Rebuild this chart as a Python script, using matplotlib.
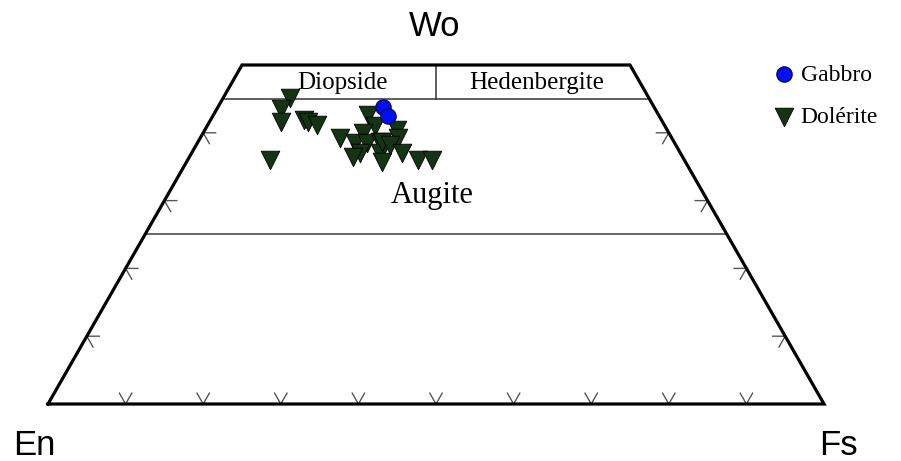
import matplotlib.pyplot as plt
import numpy as np

# pyroxene compositions (mol %)
dol_wo = [45.1, 43.5, 41.6, 41.9, 41.6, 41.2, 39.2, 36.0, 42.6, 41.0, 40.0, 38.5, 38.5,
          38.6, 37.0, 36.4, 37.0, 35.7, 40.4, 39.2, 38.6, 38.2, 37.0, 36.0, 36.0]
dol_en = [46.3, 48.2, 49.2, 46.1, 45.7, 44.7, 42.8, 53.4, 37.5, 37.4, 39.4, 41.2, 39.6,
          37.9, 41.3, 42.5, 38.7, 39.1, 34.8, 35.3, 37.7, 36.8, 35.9, 34.3, 32.5]
dol_fs = [8.6, 8.3, 9.2, 12.0, 12.7, 14.1, 18.0, 10.6, 19.9, 21.6, 20.6, 20.3, 21.9,
          23.5, 21.7, 21.1, 24.3, 25.2, 24.8, 25.5, 23.7, 25.0, 27.1, 29.7, 31.5]

gab_wo = [43.8, 42.5]
gab_en = [34.9, 34.9]
gab_fs = [21.3, 22.6]

ticks = [0.1, 0.2, 0.3, 0.4, 0.5, 0.6, 0.7, 0.8, 0.9]
side_ticks = [0.1, 0.2, 0.3, 0.4]


def tern(fs, wo):
    # ternary -> cartesian, x along En-Fs, y = Wo fraction
    fs = np.asarray(fs, dtype=float)
    wo = np.asarray(wo, dtype=float)
    return fs + wo / 2, wo


fig = plt.figure(figsize=(9.01, 4.61), dpi=100)
ax = fig.add_axes([0, 0, 1, 1])
ax.set_xlim(-48 / 776, 853 / 776)
ax.set_ylim(-57 / 678, 404 / 678)
ax.axis('off')

# outline of the quadrilateral
x, y = tern([0, 1, 0.5, 0, 0], [0, 0, 0.5, 0.5, 0])
ax.plot(x, y, color='black', lw=2.3, solid_joinstyle='miter', zorder=3)

# field boundaries
x, y = tern([0, 0.55], [0.45, 0.45])
ax.plot(x, y, color='#333333', lw=1.1)
x, y = tern([0.25, 0.275], [0.5, 0.45])
ax.plot(x, y, color='#333333', lw=1.1)
x, y = tern([0, 0.75], [0.25, 0.25])
ax.plot(x, y, color='#666666', lw=1.4)

# tick marks
t = 0.016
for f in ticks:
    x, y = tern([f + 0, f, f - t], [t, 0, t])
    ax.plot(x, y, color='#555555', lw=1)
for w in side_ticks:
    x, y = tern([t, 0, t], [w, w, w - t])
    ax.plot(x, y, color='#555555', lw=1)
    x, y = tern([1 - w - t, 1 - w, 1 - w], [w, w, w - t])
    ax.plot(x, y, color='#555555', lw=1)

# data
x, y = tern(np.array(dol_fs) / 100, np.array(dol_wo) / 100)
ax.scatter(x, y, marker='v', s=180, color='#143414', edgecolors='black',
           linewidths=0.6, zorder=4, label='Dolérite')
x, y = tern(np.array(gab_fs) / 100, np.array(gab_wo) / 100)
ax.scatter(x, y, marker='o', s=120, color='#0010f0', edgecolors='#0a0a60',
           linewidths=1, zorder=5, label='Gabbro')

# labels
serif = 'Liberation Serif'
ax.text(0.380, 0.473, 'Diopside', family=serif, fontsize=18, ha='center', va='center')
ax.text(0.630, 0.473, 'Hedenbergite', family=serif, fontsize=18, ha='center', va='center')
ax.text(0.495, 0.308, 'Augite', family=serif, fontsize=22, ha='center', va='center')

sans = 'Liberation Sans'
fig.text(435 / 901, 1 - 27 / 461, 'Wo', family=sans, fontsize=25, ha='center', va='center')
fig.text(34 / 901, 1 - 445 / 461, 'En', family=sans, fontsize=25, ha='center', va='center')
fig.text(838 / 901, 1 - 445 / 461, 'Fs', family=sans, fontsize=25, ha='center', va='center')

h, l = ax.get_legend_handles_labels()
fig.legend(h[::-1], l[::-1], loc='upper left', bbox_to_anchor=(770 / 901, 1 - 64 / 461),
           frameon=False, prop={'family': serif, 'size': 17}, handletextpad=0.1,
           handlelength=1.2, labelspacing=0.9, borderpad=0, borderaxespad=0)

plt.savefig('out.png', dpi=100)
